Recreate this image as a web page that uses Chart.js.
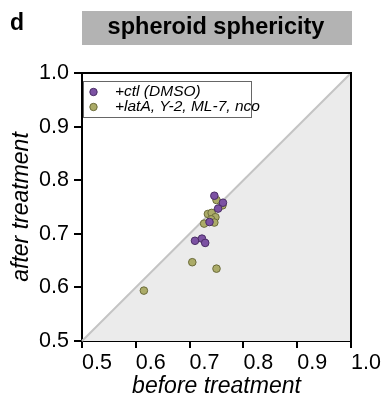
<!DOCTYPE html>
<html>
<head>
<meta charset="utf-8">
<script src="https://cdn.jsdelivr.net/npm/chart.js@4.4.0/dist/chart.umd.min.js"></script>
<style>
  html, body { margin: 0; padding: 0; background: #fff; }
  #wrap { width: 386px; height: 396px; }
</style>
</head>
<body>
<div id="wrap"><canvas id="chart" width="386" height="396"></canvas></div>
<script>
// Sphericity values (x = before, y = after)
const ctlBefore = [0.746, 0.762, 0.753, 0.737, 0.710, 0.723, 0.729];
const ctlAfter  = [0.771, 0.758, 0.747, 0.722, 0.687, 0.691, 0.683];

const drugBefore = [0.750, 0.761, 0.734, 0.741, 0.748, 0.740, 0.746, 0.727, 0.705, 0.750, 0.615];
const drugAfter  = [0.763, 0.753, 0.737, 0.739, 0.731, 0.727, 0.721, 0.719, 0.647, 0.635, 0.594];

const seriesNames = ['+ctl (DMSO)', '+latA, Y-2, ML-7, nco'];
const axisTicks = [0.5, 0.6, 0.7, 0.8, 0.9, 1.0];

const FONT = '"Liberation Sans", Arial, sans-serif';

function toPoints(xs, ys) {
    return xs.map((x, i) => ({ x: x, y: ys[i] }));
}

// Gray half below the identity line, the line itself, frame, title and legend
const diagonalPlugin = {
    id: 'diagonal',
    beforeDatasetsDraw(chart) {
        const { ctx, scales } = chart;
        const x0 = scales.x.getPixelForValue(0.5), x1 = scales.x.getPixelForValue(1.0);
        const y0 = scales.y.getPixelForValue(0.5), y1 = scales.y.getPixelForValue(1.0);
        ctx.save();
        ctx.fillStyle = '#ebebeb';
        ctx.beginPath();
        ctx.moveTo(x0, y0);
        ctx.lineTo(x1, y1);
        ctx.lineTo(x1, y0);
        ctx.closePath();
        ctx.fill();
        ctx.strokeStyle = '#c4c4c4';
        ctx.lineWidth = 2;
        ctx.beginPath();
        ctx.moveTo(x0, y0);
        ctx.lineTo(x1, y1);
        ctx.stroke();
        ctx.restore();
    },
    afterDraw(chart) {
        const { ctx, chartArea } = chart;
        ctx.save();
        // top and right frame
        ctx.strokeStyle = '#000';
        ctx.lineWidth = 2;
        ctx.beginPath();
        ctx.moveTo(chartArea.left, chartArea.top);
        ctx.lineTo(chartArea.right, chartArea.top);
        ctx.lineTo(chartArea.right, chartArea.bottom);
        ctx.stroke();

        // title box
        ctx.fillStyle = '#b3b3b3';
        ctx.fillRect(82, 11, 270, 34);
        ctx.fillStyle = '#000';
        ctx.font = 'bold 23.5px ' + FONT;
        ctx.textAlign = 'center';
        ctx.textBaseline = 'alphabetic';
        ctx.fillText('spheroid sphericity', 216, 33.5);

        // panel letter
        ctx.font = 'bold 23px ' + FONT;
        ctx.textAlign = 'left';
        ctx.fillText('d', 10, 30);

        // legend box inside the plot
        ctx.fillStyle = '#fff';
        ctx.fillRect(83, 81, 168, 36);
        ctx.strokeStyle = '#666';
        ctx.lineWidth = 1;
        ctx.strokeRect(83.5, 81.5, 168, 36);
        chart.data.datasets.forEach((ds, i) => {
            const y = 92 + i * 15;
            ctx.beginPath();
            ctx.arc(93.5, y, 3.7, 0, Math.PI * 2);
            ctx.fillStyle = ds.backgroundColor;
            ctx.fill();
            ctx.strokeStyle = ds.borderColor;
            ctx.lineWidth = 1;
            ctx.stroke();
            ctx.fillStyle = '#000';
            ctx.font = 'italic 15.5px ' + FONT;
            ctx.textAlign = 'left';
            ctx.textBaseline = 'middle';
            ctx.fillText(ds.label, 115, y);
        });
        ctx.restore();
    }
};

new Chart(document.getElementById('chart'), {
    type: 'scatter',
    data: {
        datasets: [
            {
                label: seriesNames[0],
                data: toPoints(ctlBefore, ctlAfter),
                backgroundColor: '#7c52a3',
                borderColor: '#4a2d66',
                borderWidth: 1,
                pointRadius: 3.8
            },
            {
                label: seriesNames[1],
                data: toPoints(drugBefore, drugAfter),
                backgroundColor: '#abab68',
                borderColor: '#6b6b3a',
                borderWidth: 1,
                pointRadius: 3.8
            }
        ]
    },
    options: {
        responsive: false,
        animation: false,
        layout: { padding: { left: 0, top: 73, right: 35, bottom: 0 } },
        plugins: {
            legend: { display: false },
            tooltip: { enabled: false }
        },
        scales: {
            x: {
                type: 'linear',
                min: 0.5,
                max: 1.0,
                afterFit(scale) { scale.height = 55; },
                afterBuildTicks(scale) { scale.ticks = axisTicks.map(v => ({ value: v })); },
                border: { display: true, color: '#000', width: 2 },
                grid: { drawOnChartArea: false, drawTicks: true, tickLength: 7, color: '#000', lineWidth: 2 },
                ticks: {
                    color: '#000',
                    padding: 2,
                    align: 'start',
                    font: { family: FONT, size: 21.5 },
                    callback: v => v.toFixed(1)
                },
                title: {
                    display: true,
                    text: 'before treatment',
                    color: '#000',
                    padding: { top: 0, bottom: -2 },
                    font: { family: FONT, size: 23, style: 'italic', lineHeight: 1.0 }
                }
            },
            y: {
                type: 'linear',
                min: 0.5,
                max: 1.0,
                afterFit(scale) { scale.width = 82; },
                afterBuildTicks(scale) { scale.ticks = axisTicks.map(v => ({ value: v })); },
                border: { display: true, color: '#000', width: 2 },
                grid: { drawOnChartArea: false, drawTicks: true, tickLength: 8, color: '#000', lineWidth: 2 },
                ticks: {
                    color: '#000',
                    padding: 5,
                    font: { family: FONT, size: 21.5 },
                    callback: v => v.toFixed(1)
                },
                title: {
                    display: true,
                    text: 'after treatment',
                    color: '#000',
                    padding: { top: 10, bottom: 0 },
                    font: { family: FONT, size: 23, style: 'italic', lineHeight: 1.0 }
                }
            }
        }
    },
    plugins: [diagonalPlugin]
});
</script>
</body>
</html>
